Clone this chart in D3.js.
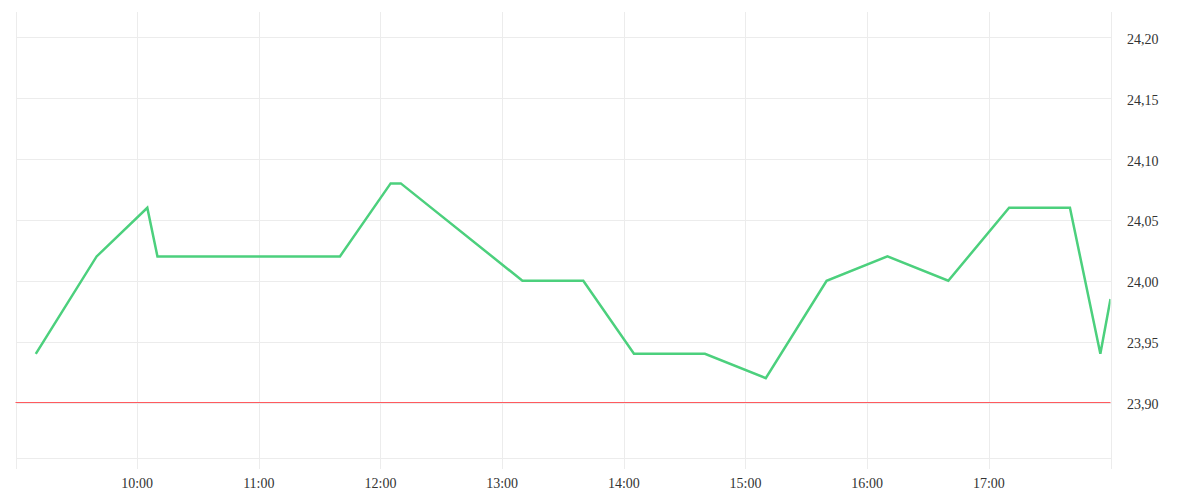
<!DOCTYPE html>
<html lang="en">
<head>
    <meta charset="utf-8">
    <title>Intraday</title>
    <script type="text/javascript" src="https://d3js.org/d3.v7.min.js"></script>
    <style>
        body { margin: 0; background: #ffffff; }
        .grid line { stroke: #ececec; stroke-width: 1; shape-rendering: crispEdges; }
        .frame { stroke: #ececec; stroke-width: 1; fill: none; shape-rendering: crispEdges; }
        .ticklabel { font-family: "Liberation Serif", "Times New Roman", Times; font-size: 14px; fill: #333333; }
        .price { fill: none; stroke: #4cd07d; stroke-width: 2.5; stroke-linejoin: miter; }
        .ref { stroke: #ff5a5f; stroke-width: 1.2; }
    </style>
</head>
<body>
<div id="container"></div>
<script type="text/javascript">
    const w = 1200;
    const h = 500;

    // data
    const times = ["09:10", "09:40", "10:05", "10:10", "11:40", "12:05", "12:10", "13:10", "13:40",
        "14:05", "14:40", "15:10", "15:40", "16:10", "16:40", "17:10", "17:40", "17:55", "18:00"];
    const prices = [23.94, 24.02, 24.06, 24.02, 24.02, 24.08, 24.08, 24.00, 24.00,
        23.94, 23.94, 23.92, 24.00, 24.02, 24.00, 24.06, 24.06, 23.94, 23.985];
    const refPrice = 23.90;
    const yTicks = [23.90, 23.95, 24.00, 24.05, 24.10, 24.15, 24.20];
    const xTickHours = [9, 10, 11, 12, 13, 14, 15, 16, 17, 18];
    const xLabelHours = [10, 11, 12, 13, 14, 15, 16, 17];

    const day = "2024-01-02";
    const parse = d3.timeParse("%Y-%m-%d %H:%M");
    const hourDate = hr => parse(day + " " + String(hr).padStart(2, "0") + ":00");
    const data = times.map((t, i) => ({date: parse(day + " " + t), value: prices[i]}));

    const pLeft = 15.5, pRight = 1110.5, pTop = 12, pBottom = 458.5;

    const x = d3.scaleTime().domain([hourDate(9), hourDate(18)]).range([pLeft, pRight]);
    const y = d3.scaleLinear().domain([23.854, 24.2208]).range([pBottom, pTop]);

    const svg = d3.select("div#container").append("svg")
        .attr("width", w)
        .attr("height", h);

    const defs = svg.append("defs");
    defs.append("clipPath").attr("id", "plot")
        .append("rect")
        .attr("x", pLeft).attr("y", pTop)
        .attr("width", pRight - pLeft).attr("height", pBottom - pTop);

    // vertical grid lines, also reaching below the bottom as tick marks
    svg.append("g").attr("class", "grid")
        .selectAll("line")
        .data(xTickHours)
        .enter()
        .append("line")
        .attr("x1", d => Math.round(x(hourDate(d))) + 0.5)
        .attr("x2", d => Math.round(x(hourDate(d))) + 0.5)
        .attr("y1", pTop)
        .attr("y2", pBottom + 10);

    // horizontal grid lines
    svg.append("g").attr("class", "grid")
        .selectAll("line")
        .data(yTicks)
        .enter()
        .append("line")
        .attr("x1", pLeft)
        .attr("x2", pRight)
        .attr("y1", d => Math.round(y(d)) + 0.5)
        .attr("y2", d => Math.round(y(d)) + 0.5);

    // bottom edge
    svg.append("line").attr("class", "frame")
        .attr("x1", pLeft).attr("x2", pRight)
        .attr("y1", pBottom).attr("y2", pBottom);

    // right axis labels
    const fmt = d3.format(".2f");
    svg.append("g")
        .selectAll("text")
        .data(yTicks)
        .enter()
        .append("text")
        .attr("class", "ticklabel")
        .attr("x", 1127)
        .attr("y", d => y(d) + 6.5)
        .text(d => fmt(d).replace(".", ","));

    // bottom axis labels
    const tfmt = d3.timeFormat("%H:%M");
    svg.append("g")
        .selectAll("text")
        .data(xLabelHours)
        .enter()
        .append("text")
        .attr("class", "ticklabel")
        .attr("text-anchor", "middle")
        .attr("x", d => x(hourDate(d)))
        .attr("y", 488)
        .text(d => tfmt(hourDate(d)));

    // reference line
    svg.append("line").attr("class", "ref")
        .attr("x1", pLeft).attr("x2", pRight)
        .attr("y1", y(refPrice)).attr("y2", y(refPrice));

    // price line
    const line = d3.line()
        .x(d => x(d.date))
        .y(d => y(d.value));

    svg.append("path")
        .datum(data)
        .attr("class", "price")
        .attr("clip-path", "url(#plot)")
        .attr("d", line);
</script>
</body>
</html>
